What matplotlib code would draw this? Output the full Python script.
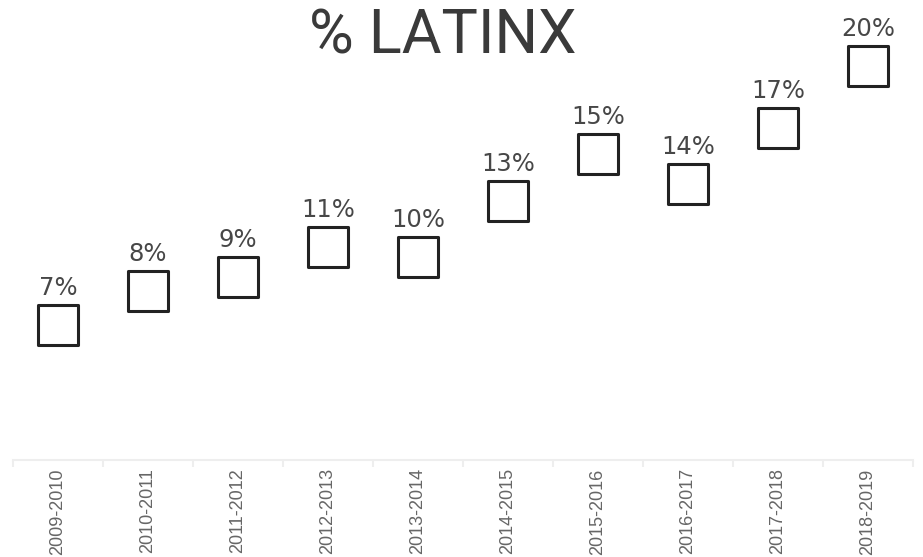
import matplotlib
matplotlib.use("Agg")
import matplotlib.pyplot as plt
import numpy as np

years = ["2009-2010", "2010-2011", "2011-2012", "2012-2013", "2013-2014",
         "2014-2015", "2015-2016", "2016-2017", "2017-2018", "2018-2019"]
latinx = [6.73, 8.43, 9.13, 10.63, 10.13, 12.93, 15.28, 13.78, 16.58, 19.68]

fig = plt.figure(figsize=(9.23, 5.57), dpi=100)
ax = fig.add_axes([13/923, 1 - 460/557, 900/923, 440/557])

x = np.arange(len(years))
ax.scatter(x, latinx, marker="s", s=29.5**2, facecolor="white",
           edgecolor="#222222", linewidth=2.2, zorder=3)
for xi, v in zip(x, latinx):
    ax.annotate(f"{round(v)}%", (xi, v), xytext=(0, 22), textcoords="offset points",
                ha="center", va="baseline", fontsize=17.5, color="#474747",
                family="DejaVu Sans")

ax.set_xlim(-0.5, len(years) - 0.5)
ax.set_ylim(0, 22)
ax.set_yticks([])
ax.set_xticks(x)
ax.set_xticklabels(years, rotation=90, fontsize=13, color="#666666",
                   family="Liberation Sans")
ax.set_xticks(np.arange(len(years) + 1) - 0.5, minor=True)
ax.tick_params(axis="x", which="major", length=0, pad=6)
ax.tick_params(axis="x", which="minor", length=5, color="#eeeeee", width=1.5)
for side in ["top", "left", "right"]:
    ax.spines[side].set_visible(False)
ax.spines["bottom"].set_color("#eeeeee")
ax.spines["bottom"].set_linewidth(1.5)

fig.text(443/923, 1 - 53/557, "% LATINX", ha="center", va="baseline",
         fontsize=44, color="#3a3a3a", family="Roboto")

fig.savefig("out.png", dpi=100)
